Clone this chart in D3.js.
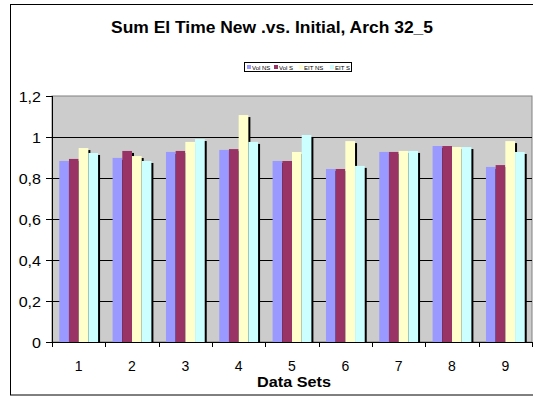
<!DOCTYPE html>
<html>
<head>
<meta charset="utf-8">
<script src="https://cdn.jsdelivr.net/npm/d3@7"></script>
<style>
  html, body { margin: 0; padding: 0; background: #fff; }
  svg { display: block; font-family: Arial, "Liberation Sans", sans-serif; }
</style>
</head>
<body>
<svg id="chart" width="533" height="396"></svg>
<script>
// ---- data ----
const categories = ['1', '2', '3', '4', '5', '6', '7', '8', '9'];
const seriesNames = ['Vol NS', 'Vol S', 'EIT NS', 'EIT S'];
const volNS = [0.883, 0.898, 0.927, 0.937, 0.883, 0.844, 0.927, 0.956, 0.854];
const volS  = [0.893, 0.932, 0.932, 0.941, 0.883, 0.844, 0.927, 0.956, 0.863];
const eitNS = [0.946, 0.907, 0.976, 1.107, 0.927, 0.980, 0.932, 0.951, 0.980];
const eitS  = [0.922, 0.883, 0.990, 0.976, 1.010, 0.859, 0.932, 0.951, 0.927];
const yTicks = [0, 0.2, 0.4, 0.6, 0.8, 1, 1.2];
const colors = ['#9999FF', '#993366', '#FFFFCC', '#CCFFFF'];

const seriesValues = [volNS, volS, eitNS, eitS];

const svg = d3.select('#chart');
const plot = { left: 52, right: 532, top: 96, bottom: 342 };

// outer chart border
svg.append('rect')
  .attr('x', 10.5).attr('y', 4.5)
  .attr('width', 530).attr('height', 390.5)
  .attr('fill', '#fff').attr('stroke', '#000').attr('stroke-width', 1);

const x = d3.scaleBand().domain(categories).range([plot.left, plot.right]);
const gap = 1.5; // excel gap width 150%
const barW = x.bandwidth() / (seriesNames.length + gap);
const xs = d3.scaleBand().domain(seriesNames)
  .range([barW * gap / 2, barW * gap / 2 + barW * seriesNames.length]);
const y = d3.scaleLinear().domain([0, 1.2]).range([plot.bottom, plot.top]);

// plot background
svg.append('rect')
  .attr('x', plot.left).attr('y', plot.top)
  .attr('width', plot.right - plot.left).attr('height', plot.bottom - plot.top)
  .attr('fill', '#CCCCCC').attr('stroke', '#808080').attr('stroke-width', 1);

// gridlines
svg.append('g')
  .selectAll('line')
  .data(yTicks.slice(1, -1))
  .join('line')
  .attr('x1', plot.left).attr('x2', plot.right)
  .attr('y1', d => Math.round(y(d)) + 0.5).attr('y2', d => Math.round(y(d)) + 0.5)
  .attr('stroke', '#000').attr('stroke-width', 1);

// bars with shadow
const rows = [];
categories.forEach((c, i) => {
  seriesNames.forEach((s, j) => rows.push({ cat: c, series: s, value: seriesValues[j][i], color: colors[j] }));
});

const barsG = svg.append('g');
barsG.selectAll('rect.shadow')
  .data(rows)
  .join('rect')
  .attr('class', 'shadow')
  .attr('x', d => x(d.cat) + xs(d.series) + 2)
  .attr('y', d => y(d.value) + 2)
  .attr('width', xs.bandwidth())
  .attr('height', d => plot.bottom - y(d.value) - 2)
  .attr('fill', '#000');

barsG.selectAll('rect.bar')
  .data(rows)
  .join('rect')
  .attr('class', 'bar')
  .attr('x', d => x(d.cat) + xs(d.series))
  .attr('y', d => y(d.value))
  .attr('width', xs.bandwidth())
  .attr('height', d => plot.bottom - y(d.value))
  .attr('fill', d => d.color);

// y axis
const yAxis = svg.append('g')
  .attr('transform', `translate(${plot.left},0)`)
  .call(d3.axisLeft(y).tickValues(yTicks).tickSize(6).tickPadding(5)
    .tickFormat(d => d3.format('.1~f')(d).replace('.', ',')));
yAxis.attr('font-family', null).attr('font-size', null);
yAxis.selectAll('text').attr('font-size', 14).attr('fill', '#000')
  .attr('transform', 'translate(-11,0) scale(1.15,1) translate(11,0)')
  .attr('dy', '0.36em');
yAxis.selectAll('line, path').attr('stroke', '#000');
yAxis.select('path').attr('d', `M0.5,${plot.top}V${plot.bottom}`);

// x axis: ticks at category boundaries
const xAxis = svg.append('g').attr('transform', `translate(0,${plot.bottom})`);
xAxis.append('line')
  .attr('x1', plot.left).attr('x2', plot.right)
  .attr('y1', 0.5).attr('y2', 0.5).attr('stroke', '#000');
xAxis.selectAll('line.tick')
  .data(categories.concat(['end']))
  .join('line')
  .attr('class', 'tick')
  .attr('x1', (d, i) => Math.round(plot.left + i * x.step()) + 0.5)
  .attr('x2', (d, i) => Math.round(plot.left + i * x.step()) + 0.5)
  .attr('y1', 0).attr('y2', 5)
  .attr('stroke', '#000');
xAxis.selectAll('text')
  .data(categories)
  .join('text')
  .attr('x', d => x(d) + x.bandwidth() / 2)
  .attr('y', 29)
  .attr('text-anchor', 'middle')
  .attr('font-size', 14)
  .text(d => d);

// axis title
svg.append('text')
  .attr('x', 257).attr('y', 387)
  .attr('font-size', 15).attr('font-weight', 'bold')
  .attr('textLength', 74).attr('lengthAdjust', 'spacingAndGlyphs')
  .text('Data Sets');

// chart title
svg.append('text')
  .attr('x', 111).attr('y', 33)
  .attr('font-size', 16.5).attr('font-weight', 'bold')
  .attr('textLength', 322).attr('lengthAdjust', 'spacingAndGlyphs')
  .text('Sum El Time New .vs. Initial, Arch 32_5');

// legend
const legend = svg.append('g').attr('transform', 'translate(244,62)');
legend.append('rect')
  .attr('x', 0.5).attr('y', 0.5).attr('width', 107).attr('height', 9)
  .attr('fill', '#fff').attr('stroke', '#000');
const legendX = [3, 30, 55, 86];
const items = legend.selectAll('g.item')
  .data(seriesNames)
  .join('g')
  .attr('class', 'item')
  .attr('transform', (d, i) => `translate(${legendX[i]},3)`);
items.append('rect')
  .attr('width', 4).attr('height', 4)
  .attr('fill', (d, i) => colors[i]);
items.append('text')
  .attr('x', 5).attr('y', 4.5)
  .attr('font-size', 6)
  .text(d => d);
</script>
</body>
</html>
